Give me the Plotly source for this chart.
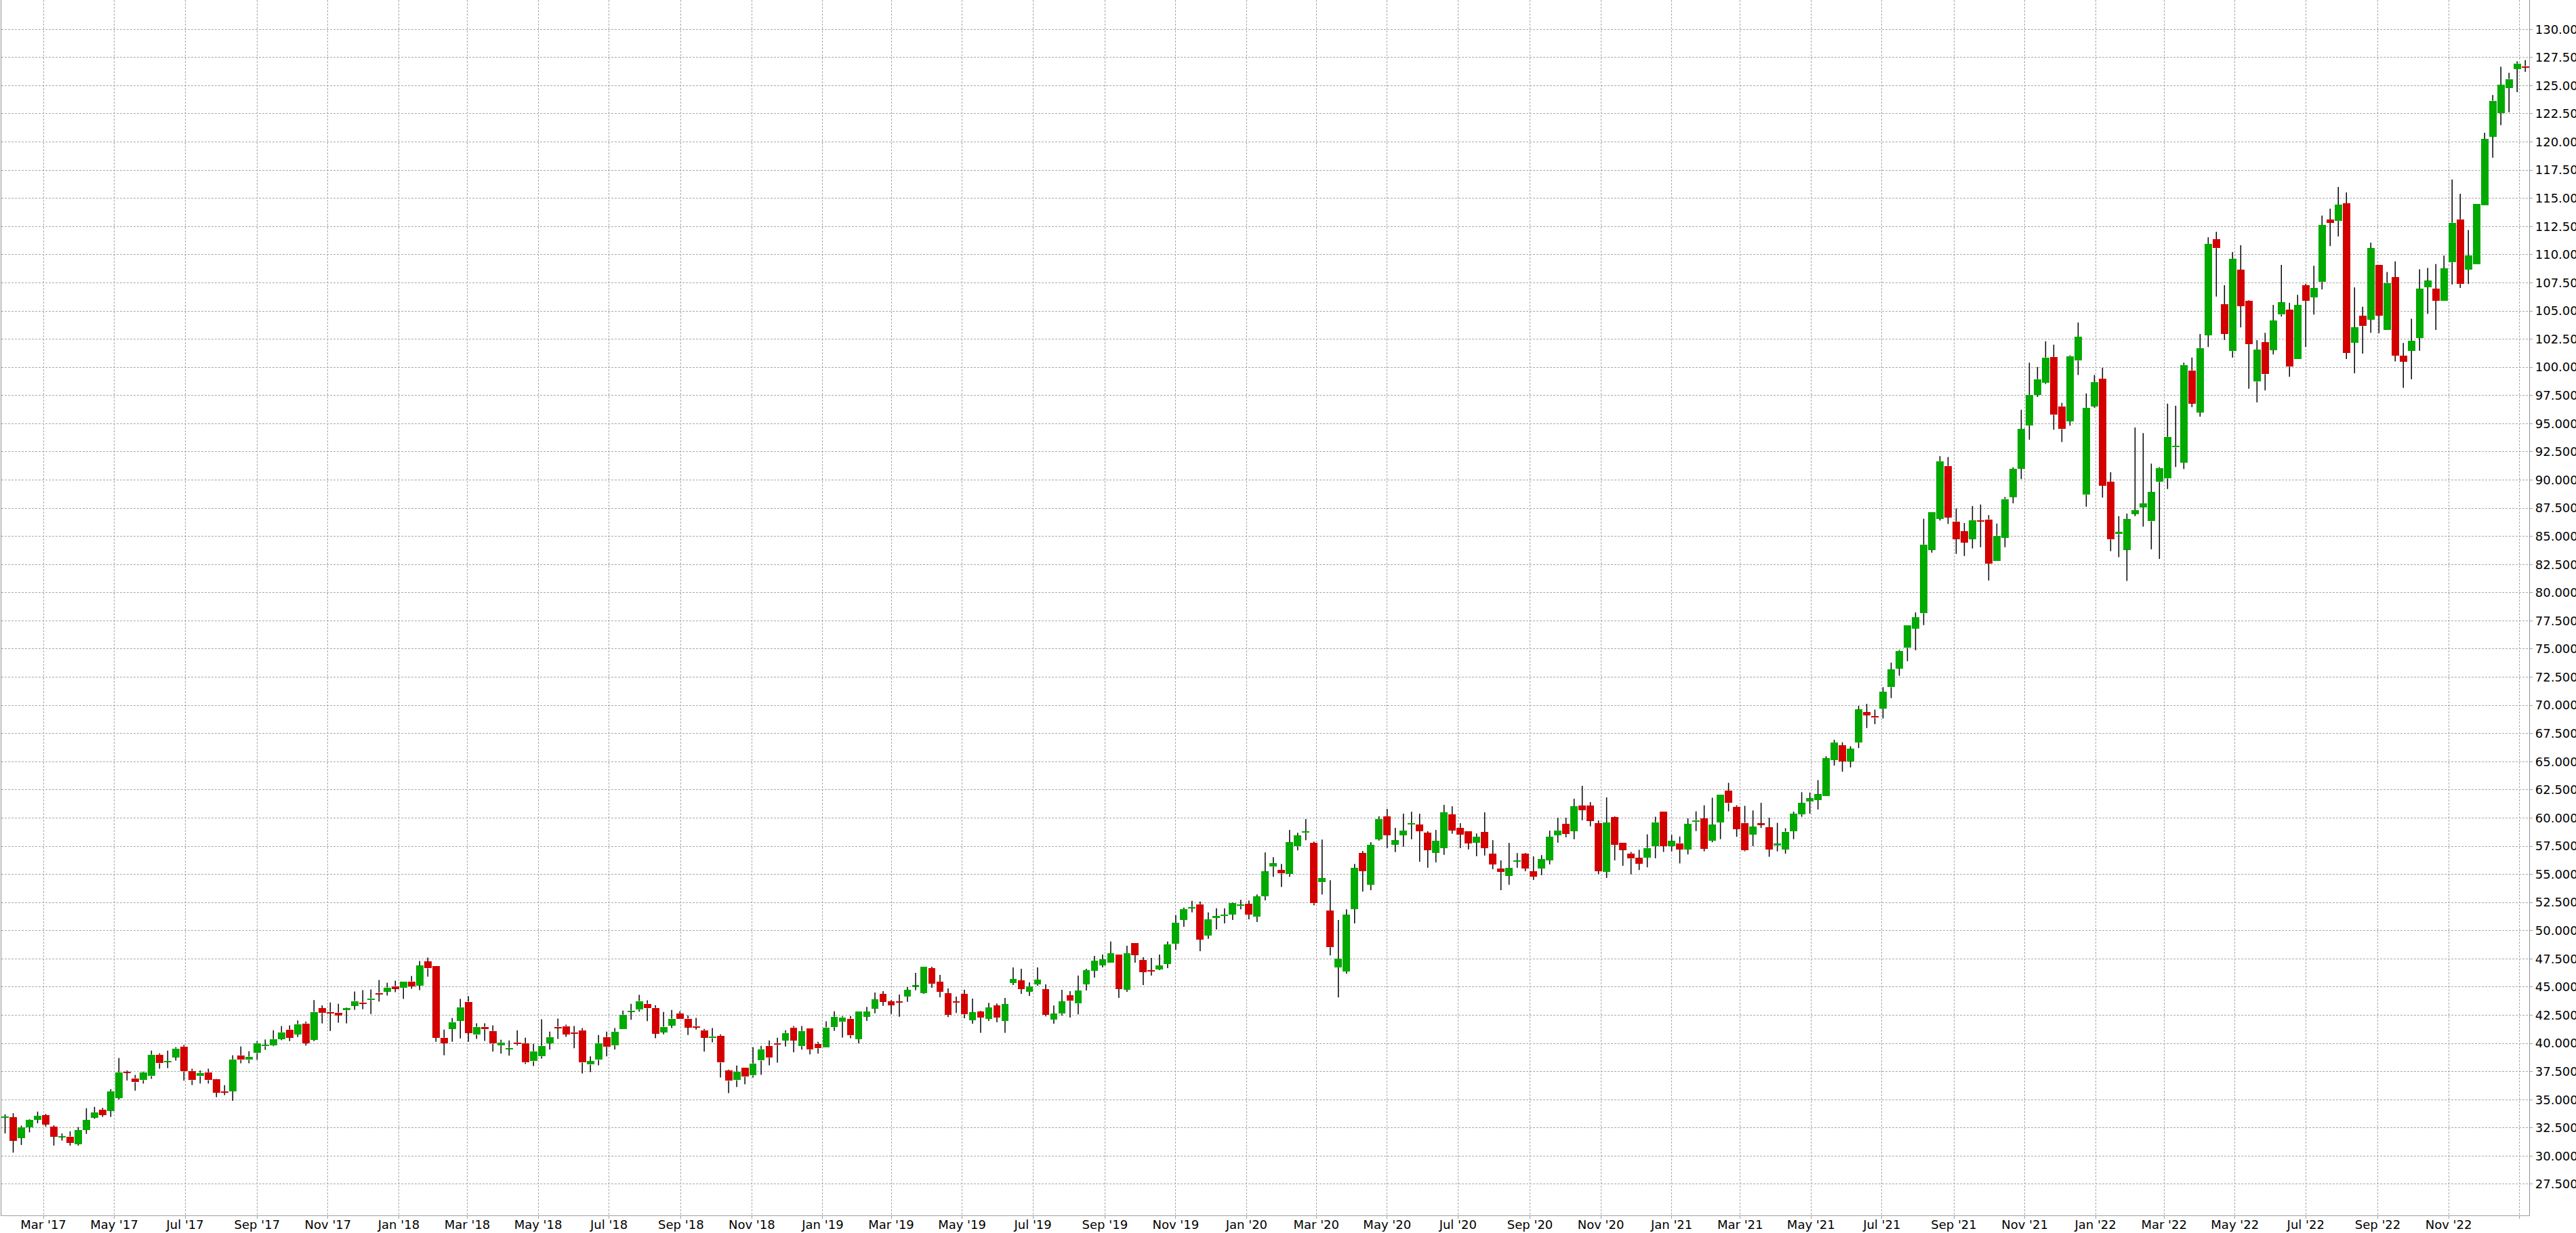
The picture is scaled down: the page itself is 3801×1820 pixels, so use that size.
import pandas as pd
import plotly.graph_objects as go

# ---------------- data (weekly candles) ----------------
first_week = "2017-01-27"
week_step = "7D"

open_ = [
33.4,33.45,31.6,32.55,33.23,33.63,32.61,31.7,31.73,31.06,32.31,33.41,34.12,34.0,35.14,37.5,36.9,36.73,37.09,39.0,
38.35,38.77,39.72,37.55,37.09,37.43,36.83,35.74,35.74,38.94,38.53,39.14,39.74,39.8,40.38,41.22,40.8,41.77,40.32,43.11,
42.79,42.73,42.93,43.33,43.63,43.84,44.48,44.6,45.08,44.92,45.5,45.14,47.25,46.83,40.5,41.28,42.0,43.7,40.76,41.47,
41.1,39.8,39.5,40.08,40.02,38.41,38.84,40.02,41.47,41.53,40.98,41.16,38.11,38.53,40.56,39.8,41.25,42.81,42.99,43.51,
43.15,40.98,41.59,42.67,42.19,41.53,41.16,40.46,40.68,37.61,36.73,37.85,37.15,38.47,39.78,40.02,40.26,41.41,39.74,41.35,
39.96,39.62,41.43,41.91,42.19,40.37,42.36,43.08,44.39,43.72,43.72,44.15,45.05,44.45,46.68,45.47,44.45,43.72,44.39,42.04,
42.82,42.16,43.36,41.98,45.35,45.59,44.57,45.23,44.81,42.1,42.64,44.27,43.54,45.23,46.44,46.92,47.16,47.88,44.75,48.9,
47.4,46.5,46.56,47.04,48.84,50.95,52.0,52.34,49.57,51.13,51.31,51.43,52.19,52.37,51.25,53.05,55.68,55.38,55.02,57.49,
58.69,57.79,54.3,51.77,46.73,46.37,51.91,56.89,54.08,58.11,60.14,57.63,58.47,59.42,59.42,58.69,56.91,57.33,60.32,59.12,
58.82,57.81,58.76,56.83,55.5,54.86,56.12,56.83,55.26,55.52,56.24,58.47,59.48,58.84,61.1,61.1,59.54,55.22,60.08,57.79,
56.85,56.45,56.48,57.5,60.54,57.5,57.77,57.2,59.65,59.94,57.98,59.6,62.42,61.0,59.57,58.52,59.52,59.17,57.55,57.2,
58.82,60.32,61.48,61.59,61.96,65.14,66.45,65.03,66.69,69.38,69.03,69.7,71.61,73.28,75.1,76.8,78.17,83.79,86.56,91.24,
86.32,85.46,84.76,86.42,86.51,82.82,84.87,88.49,91.02,94.84,97.55,98.61,100.92,96.54,95.22,100.59,88.69,96.54,98.99,89.85,
85.2,83.8,86.99,87.58,86.34,89.83,90.13,92.89,91.53,99.73,96.0,102.84,111.37,105.59,101.44,108.66,105.9,98.73,102.23,101.52,
104.68,105.11,100.73,107.29,106.2,107.57,113.09,112.99,114.56,102.18,104.58,104.23,109.12,103.32,107.99,101.02,101.47,102.61,107.11,106.97,
105.9,109.31,113.13,108.67,109.15,114.36,120.47,122.56,124.79,126.47,126.73,
]

high = [
33.7,33.8,32.7,33.25,33.94,33.73,32.73,32.0,32.19,32.57,34.24,34.36,34.28,35.94,38.7,37.6,37.2,37.49,39.36,39.12,
39.36,39.66,39.86,37.75,37.6,37.75,36.85,36.29,38.94,39.72,39.3,40.2,40.34,41.16,41.53,41.59,42.03,41.93,43.84,43.37,
43.63,43.51,43.17,44.6,44.72,44.78,45.62,45.38,45.56,45.5,45.98,47.31,47.61,46.85,41.22,42.25,43.94,44.18,41.77,41.77,
41.59,40.32,40.26,41.16,40.5,39.96,42.13,41.04,42.19,41.65,41.53,41.35,38.84,40.74,41.04,41.35,42.91,43.51,44.3,43.82,
43.39,42.79,42.97,42.85,42.49,42.25,41.28,41.35,40.8,37.67,38.03,37.85,39.66,39.78,40.26,40.5,41.16,41.53,41.53,41.35,
40.14,41.95,42.85,42.43,42.43,42.82,43.24,44.51,44.63,43.84,44.33,44.99,46.26,46.8,46.8,46.07,44.87,44.15,44.75,43.97,
42.88,43.6,43.54,44.03,46.74,46.62,45.41,46.74,45.23,43.36,44.75,44.63,46.01,46.62,47.76,47.88,49.03,47.88,48.66,48.9,
47.64,47.58,47.88,49.03,51.38,52.04,52.64,52.58,51.62,51.98,51.98,52.49,52.73,52.67,53.21,56.95,56.53,55.92,58.94,58.69,
59.9,57.91,58.09,54.48,50.94,51.89,55.92,57.07,57.85,60.14,60.8,59.12,60.38,60.56,60.38,58.82,58.94,61.16,61.04,59.54,
58.82,58.63,60.5,58.03,56.24,57.79,56.89,56.89,56.59,56.71,58.88,60.02,60.02,61.71,62.85,61.41,59.78,61.83,60.14,57.79,
56.99,57.18,58.55,60.11,60.54,58.5,58.36,59.97,60.59,61.13,61.8,62.04,63.12,61.13,61.08,60.67,61.35,60.03,59.57,59.09,
60.57,62.29,62.26,63.36,65.48,66.94,66.72,66.37,69.95,70.13,69.62,71.61,73.79,74.92,77.1,78.25,86.56,87.15,92.12,92.04,
87.47,86.18,87.69,87.82,86.88,86.13,88.49,91.12,96.23,100.41,100.03,102.31,102.01,96.84,101.07,103.98,97.68,99.32,99.96,90.69,
86.79,87.02,94.66,94.16,91.45,91.15,96.77,96.59,100.41,100.87,102.96,111.54,112.03,107.29,110.23,110.84,105.95,102.41,103.06,105.54,
109.09,105.72,106.43,107.42,109.01,113.47,114.08,116.0,115.52,107.09,105.37,111.06,109.12,108.46,109.41,102.16,104.31,108.7,108.82,109.17,
109.91,116.66,115.4,112.18,114.5,120.81,124.17,126.68,126.14,127.16,127.27,
]

low = [
32.0,30.3,30.98,32.1,32.9,32.6,30.92,31.37,30.92,30.92,31.97,33.3,33.47,33.47,35.0,36.7,35.8,36.43,36.85,37.75,
37.8,38.47,36.69,36.3,36.43,36.43,35.22,35.4,34.9,38.23,38.23,38.53,39.42,39.74,40.28,40.2,40.56,39.8,40.2,41.77,
41.1,41.83,41.77,42.97,43.03,42.6,43.7,44.24,44.54,43.94,44.84,44.72,45.92,40.14,38.94,40.14,40.44,40.14,40.4,40.22,
39.26,39.08,38.9,39.8,38.17,37.99,38.65,39.44,40.4,40.58,39.56,37.33,37.45,38.05,38.84,39.44,41.25,42.09,42.81,41.97,
40.46,40.8,41.35,42.19,40.74,41.22,39.26,40.1,36.97,35.58,36.12,36.37,36.97,37.21,38.05,38.29,39.72,39.2,39.44,39.02,
39.08,39.62,41.12,40.52,40.46,40.01,41.99,42.66,43.32,42.6,42.36,43.68,44.71,44.39,44.93,44.09,42.34,42.7,42.22,41.74,
40.94,41.98,41.86,40.94,45.17,44.39,44.21,45.11,42.4,41.74,42.46,42.28,42.58,44.69,45.83,46.74,47.16,44.03,44.57,47.16,
45.17,46.01,46.5,46.68,48.3,50.35,51.62,48.18,49.27,50.11,50.65,50.94,51.89,51.0,50.76,52.69,54.78,53.88,54.78,57.13,
58.03,52.25,53.21,47.81,44.08,46.18,50.64,53.47,53.59,57.99,57.33,56.97,57.45,58.11,56.12,55.58,56.06,56.73,58.6,57.33,
57.21,56.61,56.67,55.46,53.59,54.08,55.58,55.28,54.5,54.92,55.88,57.81,58.29,58.11,59.8,59.26,55.02,54.68,56.24,55.76,
55.0,55.38,55.62,56.42,56.99,57.04,55.97,56.77,58.84,57.04,57.85,58.12,60.59,58.33,57.04,57.5,59.11,56.56,57.04,56.83,
58.12,60.11,60.38,60.75,61.96,64.65,64.11,64.49,66.21,67.98,68.33,68.84,70.64,72.63,73.92,74.89,77.12,83.55,86.4,86.1,
83.44,83.25,83.92,84.03,81.08,82.82,84.03,87.93,90.08,93.58,97.37,98.51,94.46,93.37,94.82,99.32,87.63,96.41,88.44,83.68,
83.15,81.04,86.79,85.86,83.85,82.99,89.2,91.15,90.97,96.46,95.62,101.8,106.28,102.43,100.86,103.54,98.1,96.89,97.95,101.14,
104.51,99.16,100.73,101.8,104.68,106.91,110.76,111.62,100.73,99.47,101.22,103.06,103.03,103.32,100.52,98.18,98.94,101.47,104.74,103.32,
105.9,107.35,107.04,107.39,109.15,114.36,118.6,121.49,122.63,124.43,126.23,
]

close = [
33.5,31.37,32.55,33.2,33.57,32.81,31.73,31.77,31.18,32.31,33.2,33.88,33.65,35.74,37.43,37.4,36.55,37.43,39.0,38.23,
38.45,39.54,37.51,36.73,37.37,36.73,35.62,35.62,38.57,38.53,38.82,40.02,39.86,40.38,40.98,40.5,41.71,40.02,42.79,42.69,
42.67,42.49,43.11,43.76,43.51,44.0,44.36,44.96,44.84,45.5,45.08,46.89,46.65,40.5,40.02,41.89,43.21,40.92,41.47,41.25,
39.98,40.08,39.6,39.92,38.29,39.3,39.78,40.56,41.35,40.8,40.86,38.29,38.43,40.02,39.68,41.04,42.55,42.91,43.76,43.11,
40.86,41.47,42.19,42.19,41.41,41.41,40.5,40.62,38.29,36.67,37.49,37.03,38.21,39.48,38.72,39.86,40.92,40.26,41.1,39.44,
39.56,41.41,42.37,42.31,40.7,42.82,42.82,43.9,43.68,43.38,43.62,44.75,45.15,46.8,45.29,44.57,42.52,43.6,42.58,42.76,
42.28,43.18,42.28,43.48,45.71,44.81,45.05,45.65,42.52,42.64,43.72,43.78,44.69,46.5,47.34,47.46,48.0,44.81,48.0,47.82,
46.32,46.38,46.92,48.78,50.71,51.91,52.1,49.21,51.01,51.31,51.43,52.43,52.31,51.43,53.03,55.26,55.98,55.08,57.85,58.45,
58.81,52.43,54.66,48.53,47.51,51.41,55.56,55.28,57.61,59.9,58.47,58.03,58.88,59.54,58.84,57.15,57.97,60.5,58.9,58.53,
57.75,58.33,57.33,55.88,55.22,55.56,56.22,55.52,54.8,56.35,58.33,58.88,58.59,61.04,60.7,59.74,55.28,59.6,57.63,57.15,
56.4,55.94,57.34,59.62,57.5,57.96,57.2,59.46,59.81,57.26,59.41,62.04,61.32,59.03,57.12,59.22,59.41,57.2,57.72,58.79,
60.38,61.32,61.75,62.1,65.3,66.7,65.03,66.13,69.62,69.11,68.9,71.21,73.17,74.84,77.1,77.82,84.27,87.15,91.67,86.69,
84.76,84.46,86.42,86.32,82.58,85.05,88.31,90.99,94.54,97.55,98.94,100.87,95.78,94.51,100.99,102.72,96.41,98.69,89.5,84.72,
85.4,86.54,87.32,87.93,88.94,91.07,93.83,93.02,100.21,96.79,101.7,110.96,110.58,102.96,109.62,105.42,102.05,101.57,99.39,104.15,
105.77,100.05,105.54,105.9,107.04,112.63,112.84,114.43,101.27,103.54,103.67,110.58,104.6,107.49,101.04,100.52,102.35,106.97,107.68,105.9,
108.77,112.84,107.39,109.91,114.5,120.26,123.67,125.07,125.59,126.97,126.62,
]

# axis ticks
x_tick_dates = pd.date_range("2017-03-01", "2023-01-01", freq="2MS")
x_tick_text = [d.strftime("%b '%y") for d in x_tick_dates[:-1]] + [""]
y_tick_vals = [27.5 + 2.5 * k for k in range(42)]   # 27.5 ... 130.0
x_range = ["2017-01-23 19:00", "2023-01-09 10:00"]
y_range = [24.73, 132.6]

# ---------------- styling ----------------
UP = "#00AA00"
DOWN = "#D40000"
FONT = "DejaVu Sans, Verdana, sans-serif"
GRID = "#A8A8A8"

dates = pd.date_range(first_week, periods=len(open_), freq=week_step)

# wick segments (above and below the body, so they never cross the body)
wx, wy = [], []
for d, o, h, l, c in zip(dates, open_, high, low, close):
    top, bot = max(o, c), min(o, c)
    wx += [d, d, None, d, d, None]
    wy += [h, top, None, bot, l, None]

body_base = [min(o, c) for o, c in zip(open_, close)]
body_len = [abs(c - o) for o, c in zip(open_, close)]
body_col = [UP if c >= o else DOWN for o, c in zip(open_, close)]

fig = go.Figure()
fig.add_trace(go.Scatter(
    x=wx, y=wy, mode="lines",
    line=dict(color="#000000", width=1.5),
    hoverinfo="skip", showlegend=False,
))
fig.add_trace(go.Bar(
    x=dates, y=body_len, base=body_base,
    width=6.3 * 24 * 3600 * 1000,
    marker=dict(color=body_col, line=dict(width=0)),
    showlegend=False,
))

fig.update_layout(
    width=3801, height=1820,
    margin=dict(l=2, r=69, t=0, b=26, pad=0),
    paper_bgcolor="white", plot_bgcolor="white",
    font=dict(family=FONT, size=18, color="#000000"),
    showlegend=False,
    bargap=0,
)
fig.update_xaxes(
    type="date", range=x_range,
    tickmode="array", tickvals=x_tick_dates, ticktext=x_tick_text,
    showgrid=True, gridcolor=GRID, gridwidth=1, griddash="3px,2px",
    showline=True, linecolor="#A0A0A0", linewidth=1,
    ticks="outside", ticklen=4, tickcolor="#A0A0A0",
    ticklabelstandoff=-7,
    tickfont=dict(family=FONT, size=18, color="#000000"),
    zeroline=False, fixedrange=True, automargin=False,
)
fig.update_yaxes(
    side="right", range=y_range,
    tickmode="array", tickvals=y_tick_vals, tickformat=".3f",
    showgrid=True, gridcolor=GRID, gridwidth=1, griddash="3px,2px",
    showline=True, mirror=True, linecolor="#909090", linewidth=1.3,
    ticks="outside", ticklen=4, tickcolor="#A0A0A0",
    tickfont=dict(family=FONT, size=18, color="#000000"),
    zeroline=False, fixedrange=True, automargin=False,
)

fig.write_html(
    "out.html",
    include_plotlyjs=True,
    config={"displayModeBar": False},
    post_script="document.body.style.margin='0';document.body.style.overflow='hidden';",
)
